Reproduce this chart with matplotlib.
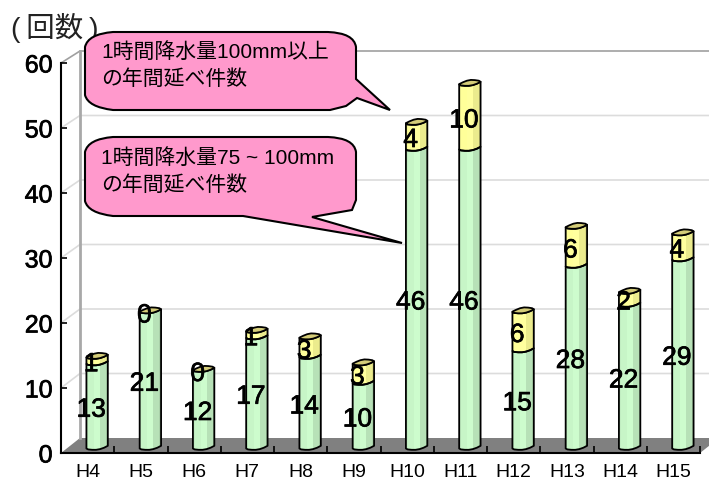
import matplotlib
matplotlib.use("Agg")
import matplotlib.pyplot as plt
import matplotlib.patheffects as pe
from matplotlib.path import Path
from matplotlib.patches import PathPatch, Polygon

plt.rcParams['font.family'] = ['Liberation Sans', 'Noto Sans CJK JP', 'DejaVu Sans']

categories = ['H4', 'H5', 'H6', 'H7', 'H8', 'H9', 'H10', 'H11', 'H12', 'H13', 'H14', 'H15']
values_75_100 = [13, 21, 12, 17, 14, 10, 46, 46, 15, 28, 22, 29]
values_100_up = [1, 0, 0, 1, 3, 3, 4, 10, 6, 6, 2, 4]
y_ticks = [0, 10, 20, 30, 40, 50, 60]
unit_label = '(\u2009回数\u2009)'
callout_top = '1時間降水量100mm以上\nの年間延べ件数'
callout_low = '1時間降水量75 ~ 100mm\nの年間延べ件数'

W, H = 709, 482
fig = plt.figure(figsize=(W / 100, H / 100), dpi=100, facecolor='white')
L, R, T, B = 61, 700, 63, 453
ax = fig.add_axes([L / W, 1 - B / H, (R - L) / W, (B - T) / H])
ax.set_xlim(0, 12)
ax.set_ylim(0, 60)
ax.patch.set_visible(False)
ax.set_axisbelow(False)
PX = (R - L) / 12
PY = (B - T) / 60
DEPTH_X = 19 / PX

def back_y(v):
    return v * (387 / 390) + 15 / PY

# back wall, side wall lines and floor
ax.add_patch(Polygon([(0, 0), (DEPTH_X, back_y(0)), (12 + DEPTH_X, back_y(0)), (12, 0)],
                     closed=True, fc='#808080', ec='none', clip_on=False, zorder=1))
for v in y_ticks[1:]:
    top = v == y_ticks[-1]
    c = '#a0a0a0' if top else '#dcdcdc'
    ax.plot([0, DEPTH_X, 12 + DEPTH_X], [v, back_y(v), back_y(v)], color=c,
            lw=1.2, clip_on=False, zorder=1, solid_capstyle='butt')
ax.plot([DEPTH_X, DEPTH_X], [back_y(0), back_y(60)], color='#a8a8a8', lw=2, clip_on=False, zorder=1)

# offsets in pixels for the skewed cylinder edges
front_edge = [(-10.7, 3.0), (-9, 3.9), (-5, 4.3), (-1, 4.3), (3, 3.6), (7, 2.2), (10.7, 0.3)]
back_edge = [(10.7, 0.3), (9, -0.8), (5, -1.4), (1, -1.6), (-3, -0.8), (-7, 0.8), (-10.7, 2.6)]
stripes = [(-11, -9, 0.97), (-9, -3, 1.0), (-3, 3, 1.03), (3, 9, 0.92), (9, 11, 0.85)]

def pt(cx, v, off):
    return (cx + off[0] / PX, v + 7.5 / PY - off[1] / PY)

def shade(rgb, k):
    return tuple(min(1, c * k) for c in rgb)

def segment(cx, v0, v1, rgb, z):
    body = [pt(cx, v0, o) for o in front_edge] + [pt(cx, v1, o) for o in reversed(front_edge)]
    clip = Polygon(body, closed=True, transform=ax.transData)
    for a, b, k in stripes:
        patch = ax.fill([cx + a / PX, cx + b / PX, cx + b / PX, cx + a / PX],
                        [v0 - 1, v0 - 1, v1 + 3, v1 + 3], color=shade(rgb, k), lw=0, zorder=z)[0]
        patch.set_clip_path(clip)
    ax.add_patch(Polygon(body, closed=True, fc='none', ec='black', lw=1.3, clip_on=False,
                         zorder=z + 0.1, joinstyle='round'))

green = (0.78, 0.96, 0.78)
yellow = (1.0, 1.0, 0.60)
for i, (a, b) in enumerate(zip(values_75_100, values_100_up)):
    cx = i + 0.5 + DEPTH_X / 2
    z = 3 + i * 0.01
    segment(cx, 0, a, green, z)
    if b > 0:
        segment(cx, a, a + b, yellow, z + 0.002)
    t = a + b
    face = [pt(cx, t, o) for o in front_edge] + [pt(cx, t, o) for o in back_edge]
    ax.add_patch(Polygon(face, closed=True, fc='#d4cc78', ec='black', lw=1.3, clip_on=False,
                         zorder=z + 0.3, joinstyle='round'))

# data labels
stroke = [pe.withStroke(linewidth=0.5, foreground='black')]
for i, (a, b) in enumerate(zip(values_75_100, values_100_up)):
    cx = i + 0.5 + DEPTH_X / 2 - 6 / PX
    for mid, val in ((a / 2, a), (a + b / 2, b)):
        ax.text(cx, mid + 1 / PY, str(val), ha='center', va='center', fontsize=19,
                color='black', zorder=8, path_effects=stroke, clip_on=False)

# axes
for s in ('top', 'right'):
    ax.spines[s].set_visible(False)
for s in ('left', 'bottom'):
    ax.spines[s].set_linewidth(1.5)
    ax.spines[s].set_zorder(2)
ax.set_yticks(y_ticks)
ax.set_yticklabels([str(v) for v in y_ticks], fontsize=18, path_effects=stroke)
ax.tick_params(axis='y', direction='in', length=4, width=1.2, pad=6)
ax.set_xticks(range(13))
ax.set_xticklabels([])
ax.set_xticks([i + 0.5 for i in range(12)], minor=True)
ax.set_xticklabels(categories, minor=True, fontsize=14)
ax.tick_params(axis='x', which='major', direction='in', length=5, width=1.2)
ax.tick_params(axis='x', which='minor', length=0, pad=8)

# unit label
fig.text(11 / W, 1 - 28 / H, unit_label, fontsize=20.5, va='center', ha='left', color='#222222')

# callouts, laid out in figure pixels
def fx(x, y):
    return (x / W, 1 - y / H)

def callout(top, bottom, tail):
    l, r = 85, 356
    M, C, LT, CL = Path.MOVETO, Path.CURVE3, Path.LINETO, Path.CLOSEPOLY
    verts = [(l, top + 15), (l + 3, top + 2), (l + 28, top), (r - 28, top), (r - 2, top + 1), (r, top + 15)]
    codes = [M, C, C, LT, C, C]
    verts += tail
    codes += [LT] * len(tail)
    verts += [(l + 28, bottom), (l + 3, bottom - 3), (l, bottom - 15), (l, top + 15)]
    codes += [LT, C, C, CL]
    p = Path([fx(*v) for v in verts], codes)
    fig.add_artist(PathPatch(p, transform=fig.transFigure, fc='#ff99cc', ec='black', lw=1.5,
                             zorder=10, joinstyle='miter'))

callout(32, 110, [(356, 79), (390, 110), (357, 98), (346, 106), (330, 110)])
callout(137, 216, [(356, 200), (352, 210), (312, 217), (402, 243), (243, 216)])

for y, s in ((65.5, callout_top), (171.5, callout_low)):
    fig.text(101 / W, 1 - y / H, s, fontsize=15, va='center', ha='left', color='black',
             linespacing=1.42, zorder=11)

fig.savefig('out.png', dpi=100, facecolor='white')
